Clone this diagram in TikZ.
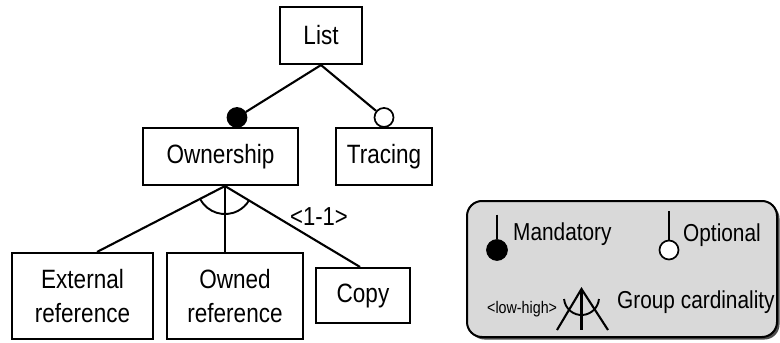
\documentclass[tikz,border=0pt]{standalone}
\usepackage{fontspec}
\setmainfont{Liberation Sans}[FakeStretch=0.85]
\usetikzlibrary{shadows}
\definecolor{legendgray}{RGB}{217,217,217}
\begin{document}
\begin{tikzpicture}[x=1pt,y=1pt,
  box/.style={draw, line width=2.1pt, inner sep=0pt, align=center,
    font=\fontsize{26.5}{34}\selectfont},
  conn/.style={line width=2.1pt},
  mandc/.style={circle, draw, fill=black, line width=1.7pt, minimum size=19pt, inner sep=0pt},
  optc/.style={circle, draw, fill=white, line width=1.7pt, minimum size=19pt, inner sep=0pt},
  legtext/.style={anchor=base west, inner sep=0pt, font=\fontsize{24.5}{28}\selectfont},
]
\useasboundingbox (0,0) rectangle (780,-343);

% feature tree
\node[box, minimum width=82pt,  minimum height=57pt] (list)  at (321,-35.5)   {List};
\node[box, minimum width=155pt, minimum height=57pt] (own)   at (220.5,-156.5) {Ownership};
\node[box, minimum width=96pt,  minimum height=57pt] (trace) at (384,-156.5)  {Tracing};
\node[box, minimum width=141pt, minimum height=86pt] (ext)   at (82.5,-296)   {External\\reference};
\node[box, minimum width=136pt, minimum height=86pt] (owned) at (235,-296)    {Owned\\reference};
\node[box, minimum width=94pt,  minimum height=55pt] (copy)  at (363,-295.5)  {Copy};

% mandatory / optional markers
\node[mandc] (m1) at ([xshift=16.5pt,yshift=9.5pt]own.north) {};
\node[optc]  (o1) at ([yshift=9.5pt]trace.north) {};
\draw[conn] (list.south) -- (m1);
\draw[conn] (list.south) -- (o1);

% alternative group under Ownership
\coordinate (apex) at ([xshift=4.5pt]own.south);
\draw[conn] (apex) -- ([xshift=14.5pt]ext.north);
\draw[conn] (apex) -- (apex |- owned.north);
\draw[conn] (apex) -- ([xshift=-3pt]copy.north);
\draw[line width=1.9pt] (apex) ++(208:28) arc[start angle=208, end angle=329, radius=28];
\node[anchor=base, inner sep=0pt, font=\fontsize{26}{30}\selectfont] (card) at (319,-225) {<1-1>};

% legend
\node[draw, line width=2pt, fill=legendgray, rounded corners=15pt,
  minimum width=310pt, minimum height=136pt, inner sep=0pt,
  drop shadow={shadow xshift=2.5pt, shadow yshift=-2.5pt, fill=black!70, opacity=1}]
  (legend) at (622,-269) {};

\node[mandc, minimum size=20pt] (lm) at (497,-250) {};
\coordinate (lmtop) at ([yshift=24.5pt]lm.north);
\draw[conn] (lmtop) -- (lm);
\node[legtext] (tm) at (513,-240) {Mandatory};

\node[optc] (lo) at (669,-250) {};
\coordinate (lotop) at ([yshift=28.5pt]lo.north);
\draw[conn] (lotop) -- (lo);
\node[legtext] (to) at (683,-241) {Optional};

\node[anchor=base west, inner sep=0pt, font=\fontsize{16.8}{20}\selectfont] (tlh) at (487,-313) {<low-high>};
\coordinate (gapex) at (581.5,-289);
\coordinate (gl) at (557,-330);
\coordinate (gm) at (581.5,-330);
\coordinate (gr) at (608,-330);
\draw[conn] (gl) -- (gapex) -- (gr);
\draw[conn] (gapex) -- (gm);
\draw[line width=1.9pt] (gapex) ++(0,-8.5) ++(185:17.5) arc[start angle=185, end angle=355, radius=17.5];
\node[legtext] (tg) at (617,-308) {Group cardinality};
\end{tikzpicture}
\end{document}
